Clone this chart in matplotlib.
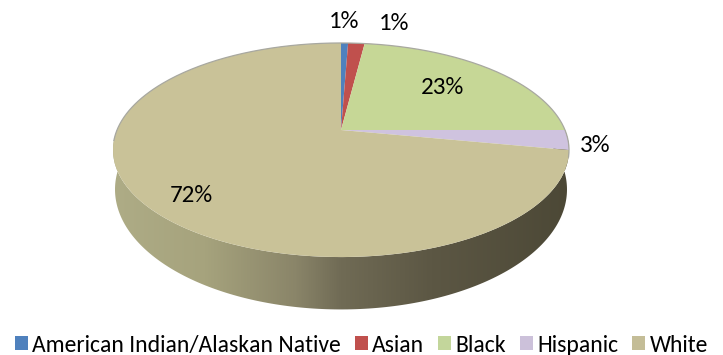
import numpy as np
import matplotlib
matplotlib.use('Agg')
from matplotlib import pyplot as plt
from matplotlib.colors import LinearSegmentedColormap
from matplotlib.patches import Patch, Polygon
from matplotlib.path import Path
from matplotlib.transforms import Transform

categories = ['American Indian/Alaskan Native', 'Asian', 'Black', 'Hispanic', 'White']
shares = [0.6, 1.4, 23, 3, 72]
share_labels = ['1%', '1%', '23%', '3%', '72%']
colors = ['#4f81bd', '#c0504d', '#c6d796', '#cfc3df', '#c9c298']
legend_colors = ['#4f81bd', '#c0504d', '#c3d69b', '#ccc1da', '#c4bd97']

plt.rcParams['font.family'] = ['Carlito', 'Open Sans', 'DejaVu Sans']


class Tilt(Transform):
    # unit circle -> ellipse in pixels, far side squeezed so apex sits above the middle
    input_dims = output_dims = 2
    is_affine = False

    def __init__(self, cx, cy, bx, by, k):
        super().__init__()
        self.cx, self.cy, self.bx, self.by, self.k = cx, cy, bx, by, k

    def transform_non_affine(self, values):
        values = np.asarray(values)
        w = 1 + self.k * values[:, 1]
        x = self.cx + self.bx * values[:, 0] / w
        y = self.cy - self.by * values[:, 1] / w
        return np.column_stack([x, y])

    def transform_path_non_affine(self, path):
        return Path(self.transform_non_affine(path.vertices), path.codes)


fig = plt.figure(figsize=(7.23, 3.55), dpi=100)
ax = fig.add_axes([0, 0, 1, 1])

top = Tilt(341, 130, 224, 103.3, 0.187)
wedges, _ = ax.pie(shares, colors=colors, startangle=90, counterclock=False,
                   wedgeprops={'linewidth': 0})
for wedge in wedges:
    wedge.set_transform(top + ax.transData)
    wedge.set_zorder(3)

# grey rim along the back of the disc
back = np.linspace(-0.25, np.pi + 0.1, 200)
rim = top.transform_non_affine(np.column_stack([np.cos(back), np.sin(back)]))
ax.plot(rim[:, 0], rim[:, 1], color='#a8a8a0', lw=0.9, zorder=4)

# side wall: gradient image clipped to the outline between top and bottom rims
bottom = Tilt(341, 167, 222, 115.8, 0.187)
angles = np.linspace(np.pi - 0.3, 2 * np.pi + 0.3, 240)
ring = np.column_stack([np.cos(angles), np.sin(angles)])
outline = np.vstack([top.transform_non_affine(ring), bottom.transform_non_affine(ring)[::-1]])
shade = LinearSegmentedColormap.from_list('side', [(0, '#aeac86'), (0.2, '#a6a37d'), (0.4, '#8a8569'),
                                                   (0.5, '#706b55'), (0.7, '#5c5744'), (1, '#4c4836')])
image = ax.imshow(np.linspace(0, 1, 256)[None, :], cmap=shade, extent=(113, 569, 320, 130), aspect='auto', zorder=2)
clip = Polygon(outline, closed=True, transform=ax.transData, facecolor='none', edgecolor='none')
ax.add_patch(clip)
image.set_clip_path(clip)

ax.set_aspect('auto')
ax.set_xlim(0, 723)
ax.set_ylim(355, 0)
ax.axis('off')

label_spots = [(344, 21), (394, 24), (443, 87), (595, 145), (191, 195)]
for text, (x, y) in zip(share_labels, label_spots):
    ax.text(x, y, text, fontsize=18, ha='center', va='center', color='black', zorder=5)

handles = [Patch(facecolor=c, linewidth=0) for c in legend_colors]
ax.legend(handles, categories, loc='center', bbox_to_anchor=(0.5, 0.028), ncol=5, frameon=False,
          fontsize=17, handlelength=0.55, handleheight=0.55, handletextpad=0.18, columnspacing=0.59,
          borderpad=0, borderaxespad=0)

fig.savefig('out.png', dpi=100)
